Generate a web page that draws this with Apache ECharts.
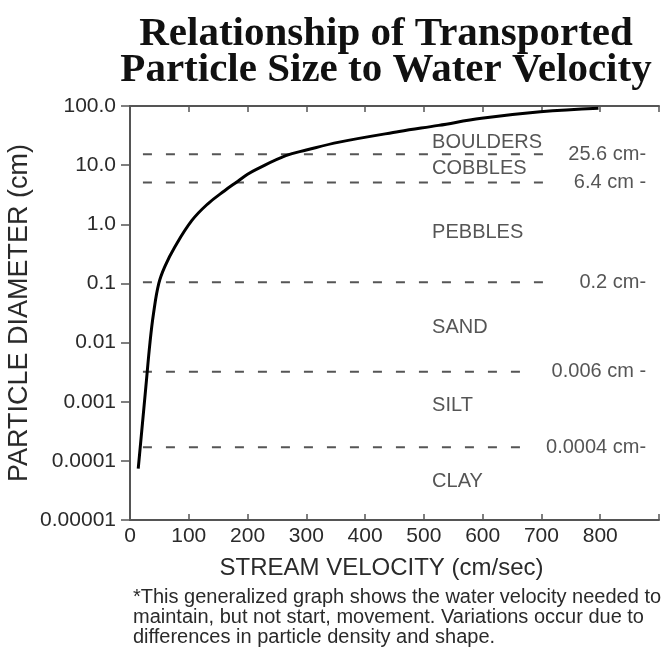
<!DOCTYPE html>
<html>
<head>
<meta charset="utf-8">
<script src="https://cdn.jsdelivr.net/npm/echarts@6/dist/echarts.min.js"></script>
<style>
  html, body { margin: 0; padding: 0; background: #fff; }
  #chart { width: 666px; height: 659px; }
</style>
</head>
<body>
<div id="chart"></div>
<script>
// curve
const velocity = [14, 20, 27, 34, 40, 49, 60, 76, 105, 132, 161, 183, 200, 215, 265, 300, 356, 458, 525, 598, 698, 797]
const diameter = [0.000074, 0.00032, 0.0018, 0.01, 0.031, 0.1, 0.2, 0.41, 1.15, 2.2, 3.7, 5.3, 7.0, 8.5, 14.5, 18, 24.5, 37, 47, 62, 80, 92]

// dashed class boundaries (drawn height, label, where the dashes stop)
const boundaryY = [15.3, 5.1, 0.105, 0.0032, 0.00017]
const boundaryText = ['25.6 cm-', '6.4 cm -', '0.2 cm-', '0.006 cm -', '0.0004 cm-']
const boundaryEnd = [719, 719, 719, 675, 675]
const boundaryStart = 22

// size classes
const zoneNames = ['BOULDERS', 'COBBLES', 'PEBBLES', 'SAND', 'SILT', 'CLAY']
const zoneY = [24.5, 8.9, 0.74, 0.018, 0.00087, 0.000044]
const zoneX = 514
const labelX = 878

const yTickLabels = ['0.00001', '0.0001', '0.001', '0.01', '0.1', '1.0', '10.0', '100.0']
const xTickLabels = ['0', '100', '200', '300', '400', '500', '600', '700', '800', '']

const font = '"Liberation Sans", Arial, sans-serif'
const axisColor = '#555'
const textColor = '#2a2a2a'

const chart = echarts.init(document.getElementById('chart'))

const boundarySeries = boundaryY.map((y, i) => ({
  type: 'line',
  data: [[boundaryStart, y], [boundaryEnd[i], y]],
  symbol: 'none',
  silent: true,
  lineStyle: { color: '#555', width: 2, type: [9, 14] },
  z: 2
}))

const option = {
  animation: false,
  backgroundColor: '#fff',
  title: {
    text: 'Relationship of Transported\nParticle Size to Water Velocity',
    left: 381,
    top: 11,
    textAlign: 'center',
    textStyle: {
      fontFamily: '"Liberation Serif", "Times New Roman", serif',
      fontWeight: 'bold',
      fontSize: 41,
      lineHeight: 36,
      color: '#111'
    }
  },
  graphic: [
    {
      type: 'text',
      left: 133,
      top: 587,
      style: {
        text: '*This generalized graph shows the water velocity needed to\nmaintain, but not start, movement. Variations occur due to\ndifferences in particle density and shape.',
        font: '20px ' + font,
        lineHeight: 20,
        fill: textColor
      }
    }
  ],
  grid: {
    left: 130,
    right: 7,
    top: 106,
    bottom: 139,
    containLabel: false,
    outerBoundsMode: 'none'
  },
  xAxis: [
    {
      type: 'value',
      min: 0,
      max: 900,
      interval: 100,
      name: 'STREAM VELOCITY (cm/sec)',
      nameLocation: 'middle',
      nameGap: 36,
      nameMoveOverlap: false,
      nameTextStyle: { fontFamily: font, fontSize: 24, color: textColor, padding: [0, 26, 0, 0] },
      axisLine: { lineStyle: { color: axisColor, width: 2 } },
      axisTick: { inside: true, length: 6, lineStyle: { color: axisColor, width: 1.5 } },
      axisLabel: {
        fontFamily: font,
        fontSize: 21,
        color: textColor,
        margin: 6,
        formatter: (v) => xTickLabels[Math.round(v / 100)]
      },
      splitLine: { show: false }
    },
    {
      type: 'value',
      position: 'top',
      min: 0,
      max: 900,
      interval: 100,
      axisLine: { lineStyle: { color: axisColor, width: 2 } },
      axisTick: { inside: true, length: 6, lineStyle: { color: axisColor, width: 1.5 } },
      axisLabel: { show: false },
      splitLine: { show: false }
    }
  ],
  yAxis: [
    {
      type: 'log',
      logBase: 10,
      min: 0.00001,
      max: 100,
      name: 'PARTICLE DIAMETER (cm)',
      nameLocation: 'middle',
      nameGap: 97,
      nameMoveOverlap: false,
      nameTextStyle: { fontFamily: font, fontSize: 27, color: textColor },
      axisLine: { lineStyle: { color: axisColor, width: 2 } },
      axisTick: { inside: false, length: 9, lineStyle: { color: axisColor, width: 1.5 } },
      axisLabel: {
        fontFamily: font,
        fontSize: 21,
        color: textColor,
        margin: 14,
        formatter: (v) => yTickLabels[Math.round(Math.log10(v)) + 5]
      },
      splitLine: { show: false }
    },
    {
      type: 'log',
      logBase: 10,
      position: 'right',
      min: 0.00001,
      max: 100,
      axisLine: { show: true, lineStyle: { color: axisColor, width: 2 } },
      axisTick: { show: false },
      axisLabel: { show: false },
      splitLine: { show: false }
    }
  ],
  series: [
    ...boundarySeries,
    {
      type: 'line',
      data: velocity.map((v, i) => [v, diameter[i]]),
      symbol: 'none',
      smooth: 0.4,
      lineStyle: { color: '#000', width: 3 },
      z: 5
    },
    {
      type: 'scatter',
      symbolSize: 0,
      silent: true,
      data: zoneNames.map((n, i) => ({ value: [zoneX, zoneY[i]], name: n })),
      label: {
        show: true,
        position: 'right',
        distance: 0,
        formatter: (p) => p.name,
        fontFamily: font,
        fontSize: 20,
        color: textColor
      },
      z: 6
    },
    {
      type: 'scatter',
      symbolSize: 0,
      silent: true,
      data: boundaryText.map((t, i) => ({ value: [labelX, boundaryY[i]], name: t })),
      label: {
        show: true,
        position: 'left',
        distance: 0,
        formatter: (p) => p.name,
        fontFamily: font,
        fontSize: 20,
        color: textColor
      },
      z: 6
    }
  ]
}

chart.setOption(option)
</script>
</body>
</html>
